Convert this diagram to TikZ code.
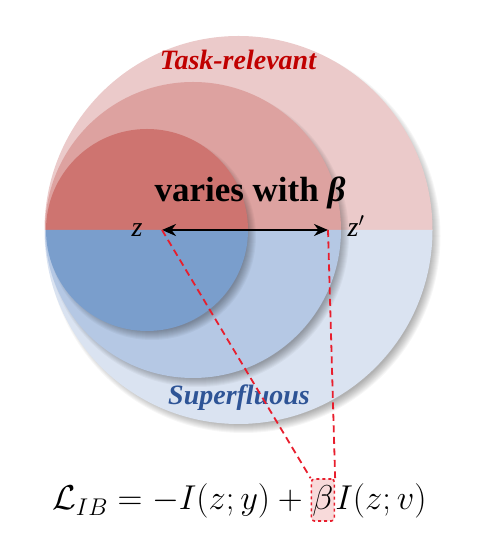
\RequirePackage{fix-cm}
\documentclass[tikz,border=0pt]{standalone}
\usepackage{fontspec}
\setmainfont{Liberation Serif}
\usetikzlibrary{calc,arrows.meta}
\definecolor{bigTop}{RGB}{235,202,202}
\definecolor{bigBot}{RGB}{218,227,241}
\definecolor{midTop}{RGB}{221,162,160}
\definecolor{midBot}{RGB}{181,200,228}
\definecolor{smallTop}{RGB}{206,116,112}
\definecolor{smallBot}{RGB}{122,158,204}
\definecolor{taskred}{RGB}{192,0,0}
\definecolor{superblue}{RGB}{46,84,150}
\definecolor{dashred}{RGB}{232,30,45}
\definecolor{boxpink}{RGB}{248,218,218}
\newcommand{\twotonedisc}[5]{%
  \foreach \k in {0,...,9}{\fill[black,opacity=0.035] (#1+5,#2-6) circle ({#3-6+\k});}
  \fill[#4] (#1+#3,#2) arc (0:180:#3) -- cycle;
  \fill[#5] (#1-#3,#2) arc (180:360:#3) -- cycle;
}
\begin{document}
\begin{tikzpicture}[x=1pt,y=1pt,
  lbl/.style={inner sep=0pt,font=\fontsize{28}{32}\selectfont\bfseries\itshape},
  zlbl/.style={inner sep=0pt,anchor=base,font=\fontsize{28}{32}\selectfont\itshape},
  eqfont/.style={inner sep=0pt,anchor=base west,font=\fontsize{34.5}{40}\selectfont},
  betabox/.style={draw=dashred,dashed,line width=1.6pt,fill=boxpink,rounded corners=3pt,
    inner xsep=1pt,inner ysep=0pt,text height=31pt,text depth=11pt,anchor=base west,
    font=\fontsize{34.5}{40}\selectfont},
  reddash/.style={draw=dashred,line width=1.8pt,dash pattern=on 7pt off 4.5pt},
  dblarrow/.style={line width=2.8pt,{Stealth[length=14pt,width=12pt]}-{Stealth[length=14pt,width=12pt]}}
]
\useasboundingbox (0,0) rectangle (483,545);
\twotonedisc{238.5}{315}{194}{bigTop}{bigBot}
\twotonedisc{193}{315}{148}{midTop}{midBot}
\twotonedisc{147}{315}{101}{smallTop}{smallBot}

\node[lbl,text=taskred] (task) at (238,485) {Task-relevant};
\node[lbl,text=superblue] (sup) at (239,147) {Superfluous};
\node[inner sep=0pt,font=\fontsize{35}{38}\selectfont\bfseries] (varies) at (250,352) {varies with \textit{β}};
\node[zlbl] (z) at (137,308) {z};
\node[zlbl] (zp) at (356,308) {z$'$};
\coordinate (za) at (162,315);
\coordinate (zb) at (328,315);
\draw[dblarrow] (za) -- (zb);

\node[eqfont] (eqA) at (52,35) {$\mathcal{L}_{IB} = -I(z;y) + {}$};
\node[betabox] (beta) at (eqA.base east) {$\beta$};
\node[eqfont] (eqC) at (beta.base east) {$I(z;v)$};

\draw[reddash] (za) -- (beta.north west);
\draw[reddash] (zb) -- (beta.north east);
\end{tikzpicture}
\end{document}
